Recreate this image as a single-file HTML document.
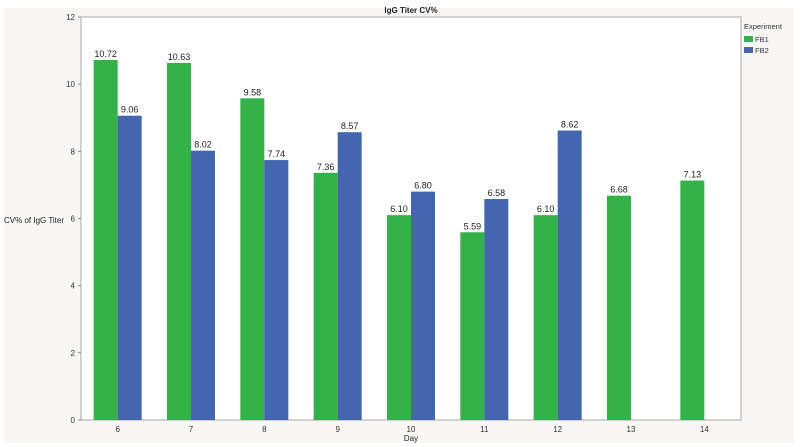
<!DOCTYPE html>
<html><head><meta charset="utf-8"><style>
body{margin:0;background:#fff;font-family:"Liberation Sans",sans-serif}
</style></head><body>
<svg width="800" height="447" style="display:block">
<rect x="4" y="8" width="790" height="435" fill="#f8f7f6"/>
<rect x="81" y="17" width="660" height="403" fill="#fff" stroke="#aaa" stroke-width="1"/>
<text x="411" y="13" font-size="8" font-weight="bold" text-anchor="middle" fill="#222">IgG Titer CV%</text>
<text x="4" y="223" font-size="8" fill="#222">CV% of IgG Titer</text>
<text x="411" y="441" font-size="8" text-anchor="middle" fill="#222">Day</text>
<g id="yaxis"></g><g id="xaxis"></g><g id="bars"></g>
<g>
<text x="744" y="29" font-size="7.5" fill="#333">Experiment</text>
<rect x="744" y="36" width="9" height="6" fill="#33b24a"/>
<text x="755" y="42" font-size="7.5" fill="#333">FB1</text>
<rect x="744" y="47" width="9" height="6" fill="#4466b0"/>
<text x="755" y="53" font-size="7.5" fill="#333">FB2</text>
</g>
</svg>
<script>
const days=["6","7","8","9","10","11","12","13","14"];
const fb1=[10.72,10.63,9.58,7.36,6.10,5.59,6.10,6.68,7.13];
const fb2=[9.06,8.02,7.74,8.57,6.80,6.58,8.62,null,null];
const yTicks=[0,2,4,6,8,10,12];
const NS="http://www.w3.org/2000/svg";
const L=81,R=741,T=17,B=420,YMAX=12;
const y=v=>B-(v/YMAX)*(B-T);
const step=(R-L)/days.length;
const xc=i=>L+step*(i+0.5);
const bw=24;
function mk(t,a,p){const e=document.createElementNS(NS,t);for(const k in a)e.setAttribute(k,a[k]);p.appendChild(e);return e;}
const ya=document.getElementById('yaxis'),xa=document.getElementById('xaxis'),bg=document.getElementById('bars');
yTicks.forEach(v=>{
 const l=mk('line',{x1:L-3,x2:L,y1:y(v),y2:y(v),stroke:'#888'},ya);
 
 
 const t=mk('text',{x:L-6,y:y(v)+3,'font-size':8,'text-anchor':'end',fill:'#333'},ya);
 t.textContent=v;
 
 
});
days.forEach((d,i)=>{
 const t=mk('text',{x:xc(i),y:B+12,'font-size':8,'text-anchor':'middle',fill:'#333'},xa);
 t.textContent=d;
 
 
 [[fb1[i],-bw,'#33b24a','fb1'],[fb2[i],0,'#4466b0','fb2']].forEach(([v,off,c,s])=>{
  if(v==null)return;
  const r=mk('rect',{x:xc(i)+off,y:y(v),width:bw,height:B-y(v),fill:c},bg);
  
  
  const lb=mk('text',{x:xc(i)+off+bw/2,y:y(v)-3,'font-size':9,'text-anchor':'middle',fill:'#222'},bg);
  lb.textContent=v.toFixed(2);
  
  
 });
});
</script>
</body></html>
